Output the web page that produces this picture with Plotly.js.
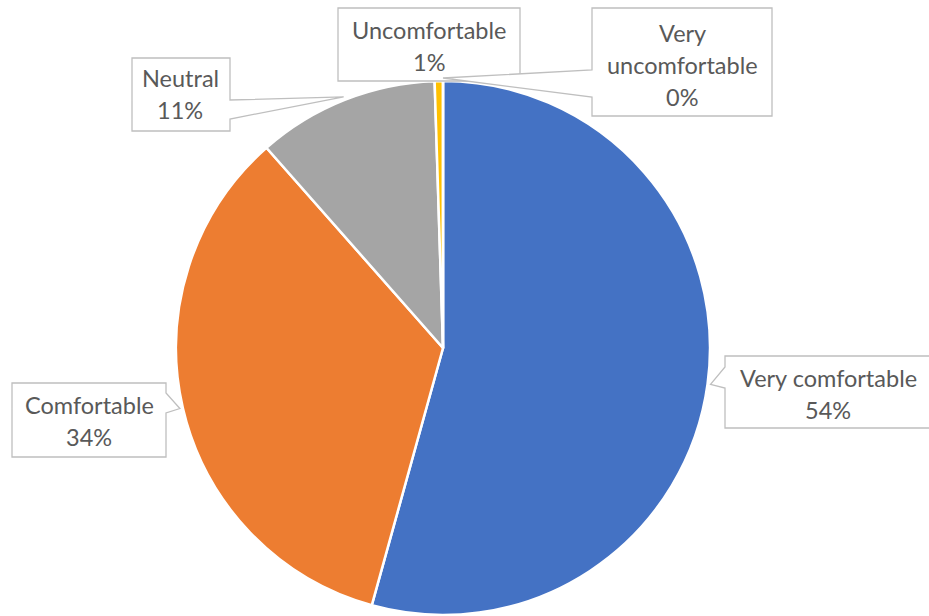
<!DOCTYPE html>
<html>
<head>
<meta charset="utf-8">
<script src="https://cdn.plot.ly/plotly-3.0.1.min.js"></script>
<style>
  html, body { margin: 0; padding: 0; background: #fff; }
  #chart { width: 929px; height: 616px; }
</style>
</head>
<body>
<div id="chart"></div>
<script>
// ---- data ----
const categories = ['Very comfortable', 'Comfortable', 'Neutral', 'Uncomfortable', 'Very uncomfortable'];
const shares = [54.3, 34.2, 11.0, 0.5, 0];
const sliceColors = ['#4472C4', '#ED7D31', '#A5A5A5', '#FFC000', '#5B9BD5'];

// ---- layout geometry (pixels) ----
const W = 929, H = 616;
const CX = 443, CY = 348, R = 267;
const px = x => x / W;
const py = y => 1 - y / H;

// callout boxes (label decoration, pixel positions)
const callouts = [
  {x0: 725, y0: 356, x1: 935, y1: 428, side: 'left',  b0: 367, b1: 388, cx: 828, ty: 378, lines: ['Very comfortable']},
  {x0: 12,  y0: 383, x1: 166, y1: 457, side: 'right', b0: 393, b1: 413, cx: 89,  ty: 405, lines: ['Comfortable']},
  {x0: 132, y0: 58,  x1: 230, y1: 131, side: 'right', b0: 100, b1: 119, cx: 180, ty: 78,  lines: ['Neutral']},
  {x0: 338, y0: 8,   x1: 520, y1: 81,  side: 'none',  cx: 429, ty: 30,  lines: ['Uncomfortable']},
  {x0: 592, y0: 8,   x1: 772, y1: 116, side: 'left',  b0: 70,  b1: 97,  cx: 682, ty: 33,  lines: ['Very', 'uncomfortable']}
];
const LINE_H = 32;

const total = shares.reduce((a, b) => a + b, 0);
let cum = 0;
const shapes = [];
const annotations = [];
shares.forEach((v, i) => {
  const mid = (cum + v / 2) / total;
  cum += v;
  const ang = mid * 2 * Math.PI;
  const tx = CX + (R + 3) * Math.sin(ang);
  const ty = CY - (R + 3) * Math.cos(ang);
  const c = callouts[i];
  let path;
  if (c.side === 'left') {
    path = `M${px(c.x0)},${py(c.y0)} L${px(c.x1)},${py(c.y0)} L${px(c.x1)},${py(c.y1)} L${px(c.x0)},${py(c.y1)} L${px(c.x0)},${py(c.b1)} L${px(tx)},${py(ty)} L${px(c.x0)},${py(c.b0)} Z`;
  } else if (c.side === 'right') {
    path = `M${px(c.x0)},${py(c.y0)} L${px(c.x1)},${py(c.y0)} L${px(c.x1)},${py(c.b0)} L${px(tx)},${py(ty)} L${px(c.x1)},${py(c.b1)} L${px(c.x1)},${py(c.y1)} L${px(c.x0)},${py(c.y1)} Z`;
  } else {
    path = `M${px(c.x0)},${py(c.y0)} L${px(c.x1)},${py(c.y0)} L${px(c.x1)},${py(c.y1)} L${px(c.x0)},${py(c.y1)} Z`;
  }
  shapes.push({type: 'path', xref: 'paper', yref: 'paper', path: path,
    fillcolor: '#FFFFFF', line: {color: '#BFBFBF', width: 1.3}, layer: 'above'});
  const textLines = c.lines.concat([Math.round(v / total * 100) + '%']);
  textLines.forEach((t, k) => {
    annotations.push({xref: 'paper', yref: 'paper', x: px(c.cx), y: py(c.ty + k * LINE_H),
      xanchor: 'center', yanchor: 'middle', showarrow: false, text: t,
      font: {family: 'Lato, "Open Sans", sans-serif', size: 23.5, color: '#595959'}});
  });
});

const trace = {
  type: 'pie',
  labels: categories,
  values: shares,
  sort: false,
  direction: 'clockwise',
  rotation: 0,
  textinfo: 'none',
  hoverinfo: 'label+percent',
  marker: {colors: sliceColors, line: {color: '#FFFFFF', width: 2.5}},
  domain: {x: [px(CX - R), px(CX + R)], y: [py(CY + R), py(CY - R)]},
  showlegend: false
};

const layout = {
  width: W, height: H,
  margin: {l: 0, r: 0, t: 0, b: 0},
  paper_bgcolor: '#FFFFFF',
  showlegend: false,
  shapes: shapes,
  annotations: annotations
};

Plotly.newPlot('chart', [trace], layout, {displayModeBar: false, staticPlot: true});
</script>
</body>
</html>
